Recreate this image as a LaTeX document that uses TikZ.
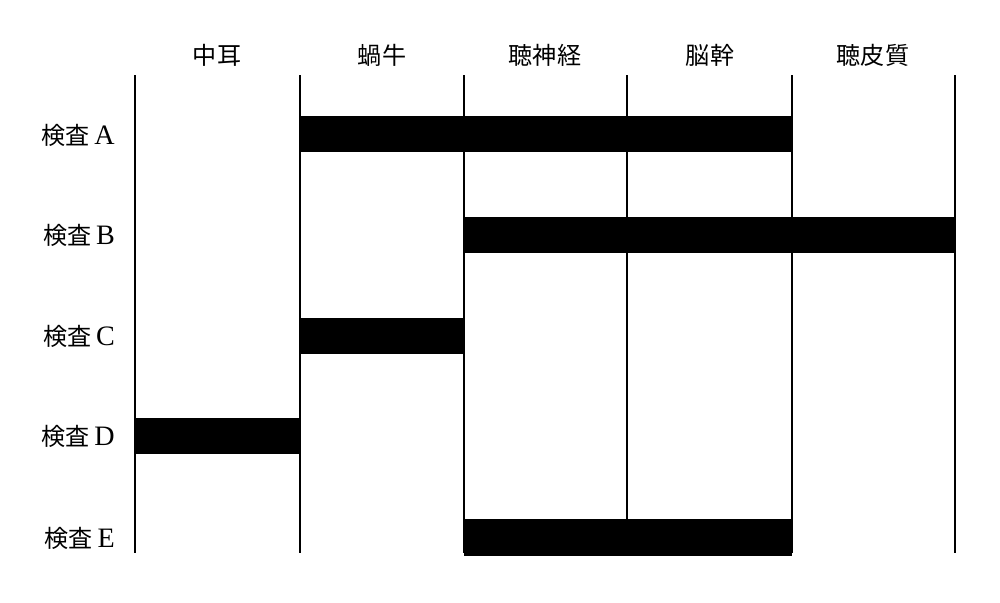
\documentclass[tikz,border=0pt]{standalone}
\usepackage{fontspec}
\setmainfont{Liberation Serif}
\newfontfamily\cjk{Noto Sans CJK JP}
\usetikzlibrary{positioning}

\newcommand{\kensa}[1]{{\cjk\fontsize{13.7}{16}\selectfont 検査}\,#1}

\tikzset{
	border/.style={line width=0.85pt},
	bar/.style={fill=black},
	head/.style={font=\cjk\fontsize{13.7}{16}\selectfont},
	test/.style={anchor=east, font=\fontsize{16}{18}\selectfont}
}

\begin{document}
\begin{tikzpicture}[x=0.2mm, y=-0.2mm]
	\useasboundingbox (0,0) rectangle (1000,602);
	
	\foreach \i/\x in {0/135, 1/300, 2/464, 3/627, 4/792, 5/955} {
		\coordinate (t\i) at (\x, 75);
		\coordinate (b\i) at (\x, 553);
		\draw[border] (t\i) -- (b\i);
	}
	
	\node[head] (mid)   at (217, 55) {中耳};
	\node[head] (coch)  at (382, 55) {蝸牛};
	\node[head] (nerve) at (545, 55) {聴神経};
	\node[head] (stem)  at (710, 55) {脳幹};
	\node[head] (cort)  at (873, 55) {聴皮質};
	
	\node[test] (ta) at (121, 135) {\kensa{A}};
	\node[test] (tb) at (121, 235) {\kensa{B}};
	\node[test] (tc) at (121, 336) {\kensa{C}};
	\node[test] (td) at (121, 436) {\kensa{D}};
	\node[test] (te) at (121, 538) {\kensa{E}};
	
	\fill[bar] (300, 116) rectangle (792, 152);
	\fill[bar] (464, 217) rectangle (955, 253);
	\fill[bar] (300, 318) rectangle (464, 354);
	\fill[bar] (135, 418) rectangle (300, 454);
	\fill[bar] (464, 519) rectangle (792, 556);
	
\end{tikzpicture}
\end{document}
